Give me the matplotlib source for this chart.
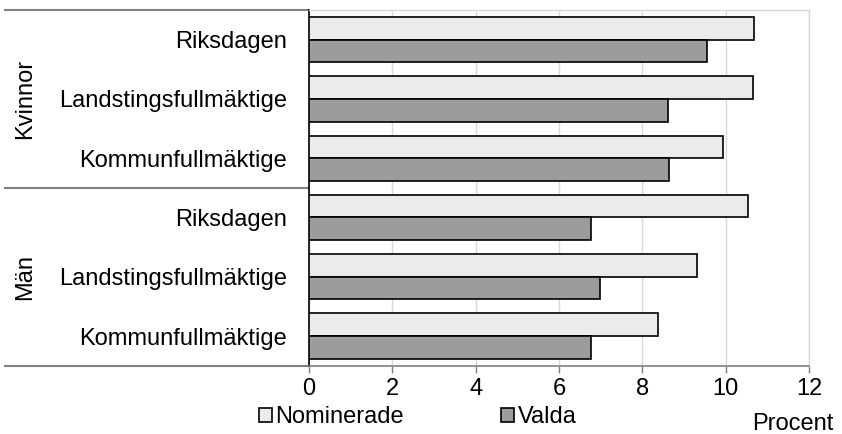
import matplotlib as mpl

mpl.use("agg")

import matplotlib.pyplot as plt
from matplotlib.transforms import blended_transform_factory

plt.rcParams['font.family'] = ['Liberation Sans', 'DejaVu Sans']

# kategorier uppifrån och ned
grupper = ['Kvinnor', 'Män']
organ = ['Riksdagen', 'Landstingsfullmäktige', 'Kommunfullmäktige']
nominerade = [10.67, 10.66, 9.94, 10.54, 9.30, 8.38]
valda = [9.55, 8.62, 8.65, 6.77, 6.98, 6.77]
xticks = [0, 2, 4, 6, 8, 10, 12]

etiketter = organ * len(grupper)
pos = list(range(len(etiketter)))
h = 0.383
fs = 17

fig = plt.figure(figsize=(8.42, 4.34), dpi=100)
ax = fig.add_axes([309 / 842, 1 - 365.7 / 434, 500 / 842, 355.7 / 434])

ax.barh([p - h / 2 for p in pos], nominerade, height=h, color='#ebebeb',
        edgecolor='black', linewidth=1.2, label='Nominerade', zorder=3)
ax.barh([p + h / 2 for p in pos], valda, height=h, color='#9c9c9c',
        edgecolor='black', linewidth=1.2, label='Valda', zorder=3)

ax.set_ylim(len(pos) - 0.5, -0.5)
ax.set_xlim(0, 12)
ax.set_xticks(xticks)
ax.set_yticks(pos)
ax.set_yticklabels(etiketter, fontsize=fs)
ax.tick_params(axis='y', length=0, pad=16)
ax.tick_params(axis='x', labelsize=fs, length=5, width=1, color='#808080',
               direction='out', pad=4)

ax.grid(axis='x', color='#d9d9d9', linewidth=1, zorder=0)
ax.spines['left'].set_color('black')
ax.spines['left'].set_linewidth(1.2)
ax.spines['bottom'].set_color('#808080')
ax.spines['bottom'].set_linewidth(1.2)
for s in ['top', 'right']:
    ax.spines[s].set_color('#d9d9d9')
    ax.spines[s].set_linewidth(1)

# linjer som avgränsar grupperna till vänster
tr = blended_transform_factory(ax.transAxes, ax.transData)
for y in [-0.5, 2.5, 5.5]:
    ax.plot([-0.608, 0], [y, y], transform=tr, color='#808080', lw=1.5,
            clip_on=False, zorder=1)
for i, g in enumerate(grupper):
    ax.text(-0.568, i * 3 + 1, g, transform=tr, rotation=90, ha='center',
            va='center', fontsize=fs)

ax.legend(loc='center left', bbox_to_anchor=(259 / 842, 1 - 417 / 434),
          bbox_transform=fig.transFigure, ncol=2, frameon=False,
          fontsize=fs, handlelength=0.55, handleheight=0.55,
          handletextpad=0.15, columnspacing=4.1, borderpad=0,
          borderaxespad=0)

fig.text(833 / 842, 1 - 424 / 434, 'Procent', ha='right', va='center',
         fontsize=fs)

plt.savefig('out.png', dpi=100)
